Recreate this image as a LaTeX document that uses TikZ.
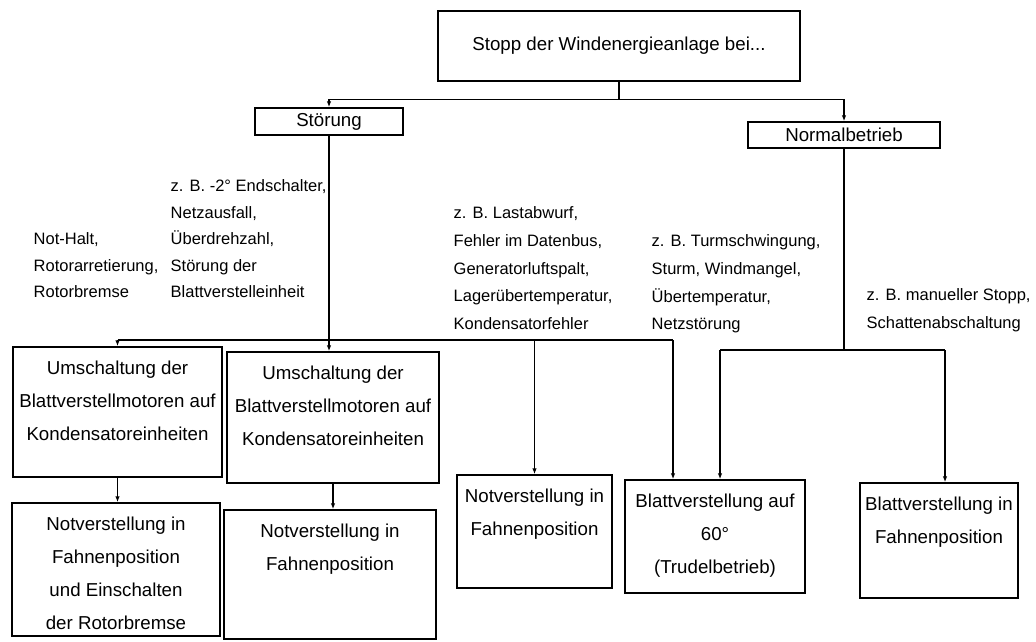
\documentclass[tikz,border=0pt]{standalone}
\usepackage{fontspec}
\setmainfont{Liberation Sans}
\usetikzlibrary{arrows.meta}
\newcommand\boxlines[3]{\parbox[c][#2pt][t]{#1pt}{\centering\rule{0pt}{27.7pt}#3}}
\begin{document}
\begin{tikzpicture}[x=1pt,y=-1pt, line width=1.4pt,
  every node/.style={inner sep=0pt},
  bx/.style={draw, line width=1.4pt, font=\fontsize{18.7}{33}\selectfont},
  side/.style={anchor=north west, align=left, font=\fontsize{16.5}{26.5}\selectfont},
  sidewide/.style={anchor=north west, align=left, font=\fontsize{16.5}{27.7}\selectfont},
  arr/.style={-{Latex[length=6pt,width=4.5pt]}}]
\fill[white] (0,0) rectangle (1036,641);
\useasboundingbox (0,0) rectangle (1036,641);

% top level
\node[bx, minimum width=362, minimum height=70] (T) at (619,46) {Stopp der Windenergieanlage bei...};
\node[bx, minimum width=148, minimum height=27] (S) at (329,121.5) {Störung};
\node[bx, minimum width=192, minimum height=26] (N) at (844,135) {Normalbetrieb};

% result boxes
\node[bx] (u1) at (117.5,412) {\boxlines{209}{130}{Umschaltung der\\Blattverstellmotoren auf\\Kondensatoreinheiten}};
\node[bx] (u2) at (333,417.5) {\boxlines{212}{131}{Umschaltung der\\Blattverstellmotoren auf\\Kondensatoreinheiten}};
\node[bx] (n1) at (116,569.5) {\boxlines{208}{133}{Notverstellung in\\Fahnenposition\\und Einschalten\\der Rotorbremse}};
\node[bx] (n2) at (330,574.5) {\boxlines{212}{129}{Notverstellung in\\Fahnenposition}};
\node[bx] (n3) at (534.5,531.5) {\boxlines{155}{113}{Notverstellung in\\Fahnenposition}};
\node[bx] (b60) at (715,536.5) {\boxlines{180}{113}{Blattverstellung auf\\60°\\(Trudelbetrieb)}};
\node[bx] (bf) at (939,540.5) {\boxlines{158}{115}{Blattverstellung in\\Fahnenposition}};

% cause texts
\node[side] (ta) at (33,232) {\rule{0pt}{12pt}Not-Halt,\\Rotorarretierung,\\Rotorbremse};
\node[side] (tb) at (170,179) {\rule{0pt}{12pt}z. B. -2° Endschalter,\\Netzausfall,\\Überdrehzahl,\\Störung der\\Blattverstelleinheit};
\node[sidewide] (tc) at (453,206) {\rule{0pt}{12pt}z. B. Lastabwurf,\\Fehler im Datenbus,\\Generatorluftspalt,\\Lagerübertemperatur,\\Kondensatorfehler};
\node[sidewide] (td) at (651,234) {\rule{0pt}{12pt}z. B. Turmschwingung,\\Sturm, Windmangel,\\Übertemperatur,\\Netzstörung};
\node[sidewide] (te) at (866,288) {\rule{0pt}{12pt}z. B. manueller Stopp,\\Schattenabschaltung};

% connectors from top box
\draw (T.south) -- ++(0,18) coordinate (j0);
\draw[arr] (j0) -| (S.north);
\draw[arr] (j0) -| (N.north);

% Stoerung branch
\draw[arr] (S.south) -- (S.south |- u2.north);
\coordinate (b2l) at (117.5,340);
\coordinate (b2r) at (673,340);
\draw (b2l) -- (b2r);
\draw[arr] (b2l) -- (u1.north);
\draw[arr] (n3.north |- b2l) -- (n3.north);
\draw[arr] (b2r) -- (b2r |- b60.north);

% Normalbetrieb branch
\coordinate (b3l) at (720,350);
\coordinate (b3r) at (945,350);
\draw (N.south) -- (N.south |- b3l);
\draw (b3l) -- (b3r);
\draw[arr] (b3l) -- (b3l |- b60.north);
\draw[arr] (b3r) -- (b3r |- bf.north);

% second level
\draw[arr] (u1.south) -- (u1.south |- n1.north);
\draw[arr] (u2.south) -- (u2.south |- n2.north);
\end{tikzpicture}
\end{document}
